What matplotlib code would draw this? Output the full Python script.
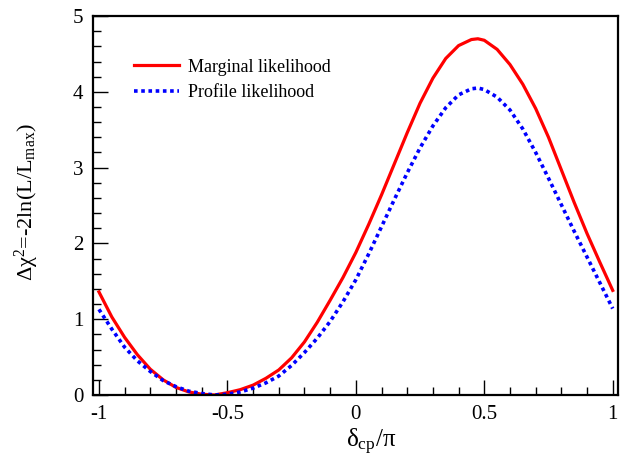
import numpy as np
import matplotlib
matplotlib.use("Agg")
import matplotlib.pyplot as plt
from matplotlib.ticker import MultipleLocator

plt.rcParams['font.family'] = ['Liberation Serif', 'DejaVu Serif']
plt.rcParams['mathtext.fontset'] = 'custom'
plt.rcParams['mathtext.rm'] = 'Liberation Serif'
plt.rcParams['mathtext.it'] = 'Liberation Serif:italic'

# delta_cp / pi values where the curves were read
x_vals = [-1.0, -0.95, -0.9, -0.85, -0.8, -0.75, -0.7, -0.65, -0.6, -0.55, -0.5,
          -0.45, -0.4, -0.35, -0.3, -0.25, -0.2, -0.15, -0.1, -0.05, 0.0,
          0.05, 0.1, 0.15, 0.2, 0.25, 0.3, 0.35, 0.4, 0.45, 0.475, 0.5,
          0.55, 0.6, 0.65, 0.7, 0.75, 0.8, 0.85, 0.9, 0.95, 1.0]

marginal = [1.36, 1.03, 0.76, 0.53, 0.34, 0.20, 0.10, 0.04, 0.01, 0.0, 0.03,
            0.07, 0.13, 0.22, 0.33, 0.49, 0.70, 0.96, 1.25, 1.55, 1.88,
            2.25, 2.64, 3.05, 3.46, 3.85, 4.18, 4.44, 4.61, 4.69, 4.70, 4.68,
            4.56, 4.36, 4.10, 3.78, 3.40, 2.97, 2.54, 2.13, 1.75, 1.38]

profile = [1.13, 0.87, 0.63, 0.45, 0.31, 0.19, 0.11, 0.05, 0.02, 0.0, 0.01,
           0.04, 0.09, 0.16, 0.25, 0.39, 0.56, 0.75, 0.97, 1.23, 1.52,
           1.86, 2.22, 2.58, 2.93, 3.26, 3.55, 3.79, 3.96, 4.04, 4.05, 4.03,
           3.93, 3.76, 3.51, 3.20, 2.86, 2.51, 2.16, 1.82, 1.48, 1.14]

fig = plt.figure(figsize=(6.26, 4.58), dpi=100)
ax = fig.add_axes([0.1486, 0.1376, 0.8384, 0.8274])

ax.plot(x_vals, marginal, color='#ff0000', lw=2.3, label='Marginal likelihood')
ax.plot(x_vals, profile, color='#0000ff', lw=2.6, linestyle=(0, (1, 1)),
        label='Profile likelihood')

ax.set_xlim(-1.023, 1.02)
ax.set_ylim(0, 5)

ax.xaxis.set_minor_locator(MultipleLocator(0.1))
ax.yaxis.set_major_locator(MultipleLocator(1))
ax.yaxis.set_minor_locator(MultipleLocator(0.2))
ax.set_xticks([-1, -0.5, 0, 0.5, 1])
ax.set_xticklabels(['-1', '-0.5', '0', '0.5', '1'])
ax.tick_params(which='both', direction='in', top=False, right=False, labelsize=15)
ax.tick_params(which='major', length=11, width=1.0, pad=7)
ax.tick_params(which='minor', length=6, width=1.0)
for s in ax.spines.values():
    s.set_linewidth(1.6)

ax.set_xlabel('δ$_{\\rm cp}$/π', fontsize=18)
ax.xaxis.set_label_coords(0.53, -0.085)
ax.set_ylabel('Δχ$^{\\rm 2}$=-2ln(L/L$_{\\rm max}$)', fontsize=16)
ax.yaxis.set_label_coords(-0.1, 0.51)

ax.legend(loc='upper left', bbox_to_anchor=(0.047, 0.93), frameon=False,
          fontsize=13, handlelength=2.5, handletextpad=0.5, labelspacing=0.45)

fig.savefig('out.png', dpi=100)
